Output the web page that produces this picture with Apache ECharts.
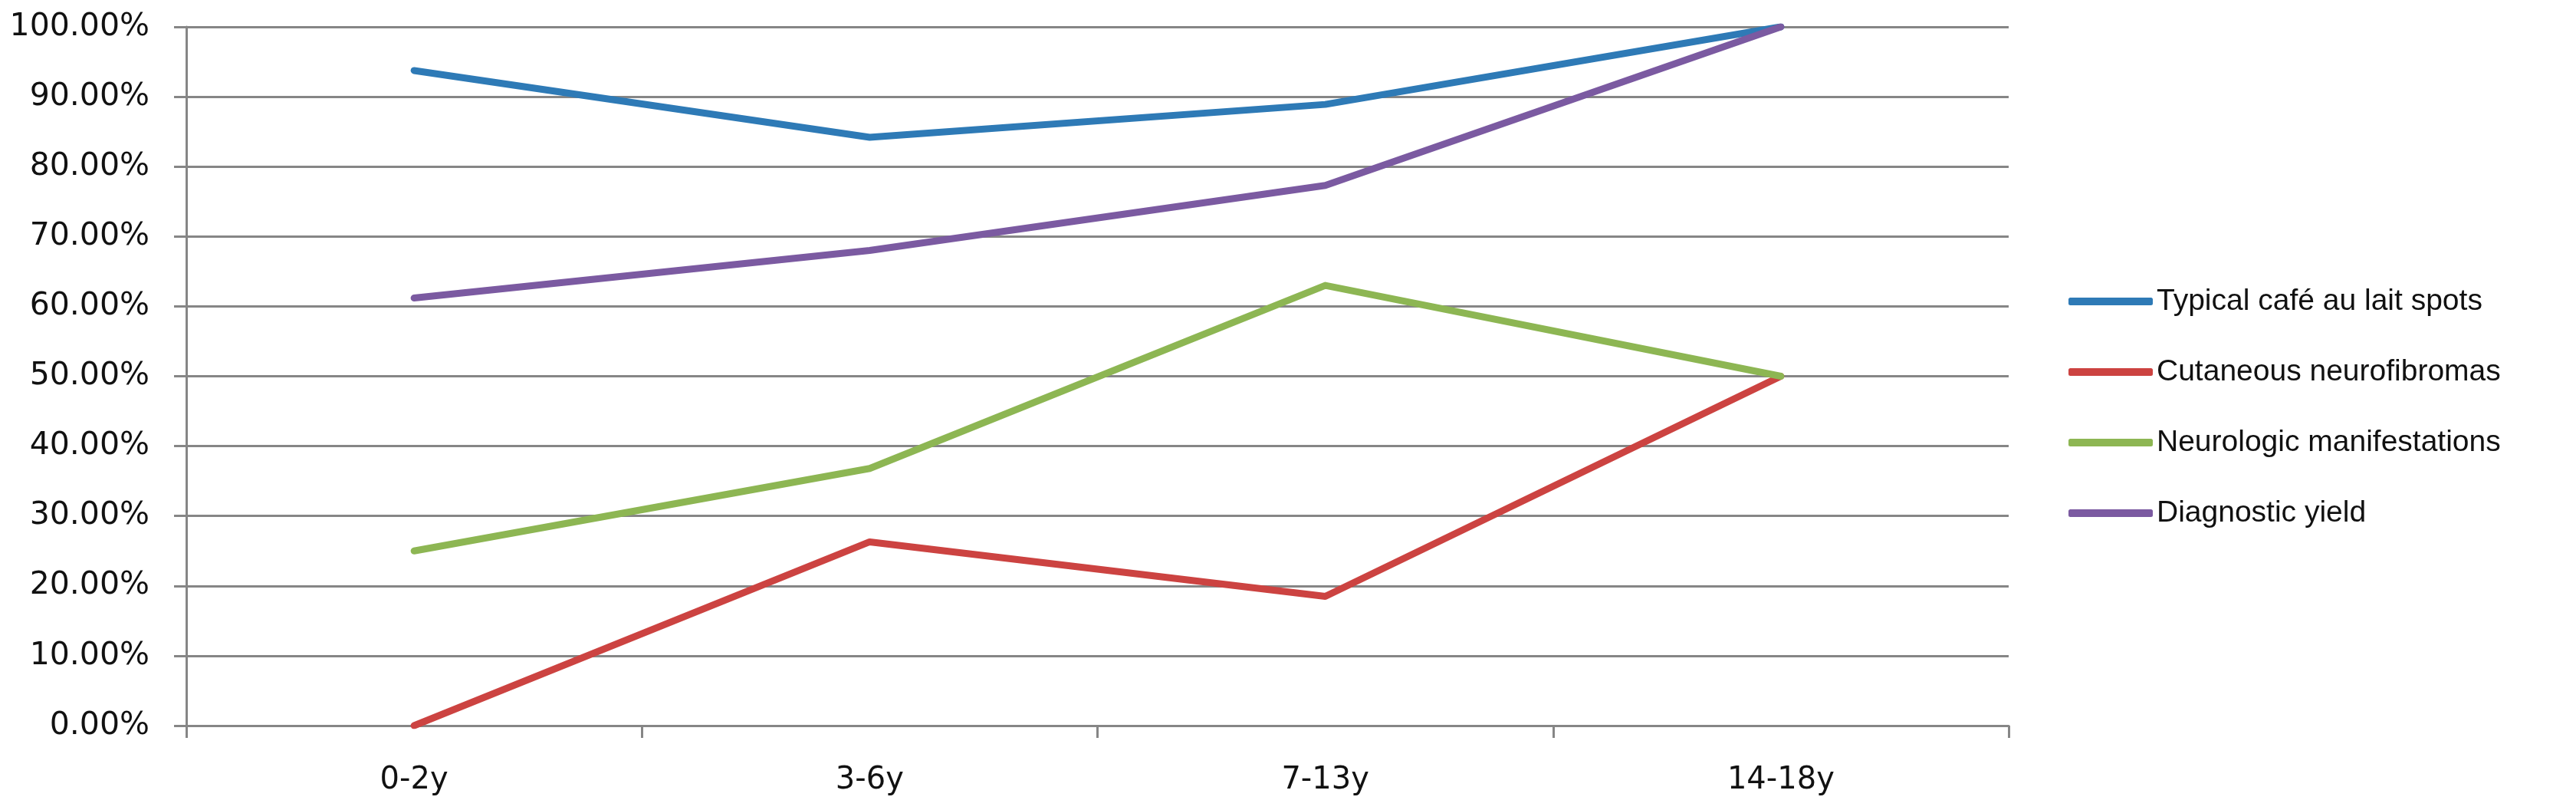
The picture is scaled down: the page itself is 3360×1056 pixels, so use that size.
<!DOCTYPE html>
<html>
<head>
<meta charset="utf-8">
<script src="https://cdn.jsdelivr.net/npm/echarts@6/dist/echarts.min.js"></script>
<style>
html, body { margin: 0; padding: 0; background: #fff; }
#chart { width: 3360px; height: 1056px; }
</style>
</head>
<body>
<div id="chart"></div>
<script>
// age groups
var ageGroups = ['0-2y', '3-6y', '7-13y', '14-18y'];

// percentages
var cafeAuLait = [93.75, 84.2, 88.9, 100];
var neurofibromas = [0, 26.3, 18.5, 50];
var neurologic = [25, 36.8, 63.0, 50];
var diagYield = [61.2, 68.0, 77.3, 100];

var seriesNames = [
    'Typical café au lait spots',
    'Cutaneous neurofibromas',
    'Neurologic manifestations',
    'Diagnostic yield'
];
var colors = ['#2E7AB6', '#CC4341', '#8DB653', '#7B5AA1'];

var chart = echarts.init(document.getElementById('chart'));

function makeLine(name, data, color) {
    return {
        name: name,
        type: 'line',
        data: data,
        symbol: 'none',
        color: color,
        lineStyle: { width: 9, color: color, cap: 'round', join: 'round' },
        itemStyle: { color: color },
        animation: false
    };
}

var gridGray = '#868686';

var option = {
    backgroundColor: '#ffffff',
    grid: { left: 243, right: 740, top: 35, bottom: 110 },
    legend: {
        orient: 'vertical',
        left: 2693,
        top: 368,
        icon: 'roundRect',
        itemWidth: 110,
        itemHeight: 10,
        itemGap: 52,
        textStyle: {
            fontFamily: 'Liberation Sans',
            fontSize: 39,
            lineHeight: 40,
            color: '#111'
        },
        data: seriesNames
    },
    xAxis: {
        type: 'category',
        data: ageGroups,
        boundaryGap: true,
        axisLine: { show: true, lineStyle: { color: gridGray, width: 3 } },
        axisTick: { show: true, length: 16, lineStyle: { color: gridGray, width: 3 } },
        axisLabel: {
            margin: 52,
            fontFamily: 'DejaVu Sans',
            fontSize: 40,
            color: '#111'
        },
        splitLine: { show: false }
    },
    yAxis: {
        type: 'value',
        min: 0,
        max: 100,
        interval: 10,
        axisLine: { show: true, lineStyle: { color: gridGray, width: 3 } },
        axisTick: { show: true, length: 16, lineStyle: { color: gridGray, width: 3 } },
        axisLabel: {
            margin: 48,
            fontFamily: 'DejaVu Sans',
            fontSize: 41,
            color: '#111',
            formatter: function (v) { return v.toFixed(2) + '%'; }
        },
        splitLine: { show: true, lineStyle: { color: gridGray, width: 3 } }
    },
    series: [
        makeLine(seriesNames[0], cafeAuLait, colors[0]),
        makeLine(seriesNames[1], neurofibromas, colors[1]),
        makeLine(seriesNames[2], neurologic, colors[2]),
        makeLine(seriesNames[3], diagYield, colors[3])
    ]
};

chart.setOption(option);
</script>
</body>
</html>
